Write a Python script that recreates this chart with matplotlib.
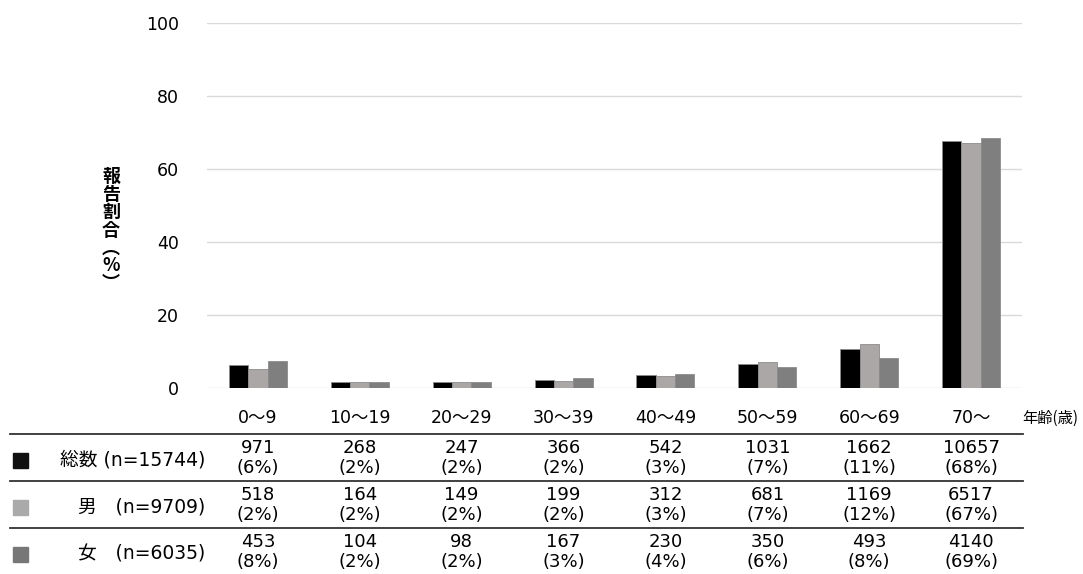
import numpy as np
import matplotlib.pyplot as plt
from matplotlib.patches import Rectangle

plt.rcParams['font.family'] = ['DejaVu Sans', 'Noto Sans CJK JP']

ages = ['0～9', '10～19', '20～29', '30～39', '40～49', '50～59', '60～69', '70～']
series_names = ['総数 (n=15744)', '男　(n=9709)', '女　(n=6035)']
series_n = [15744, 9709, 6035]
total_counts = [971, 268, 247, 366, 542, 1031, 1662, 10657]
male_counts = [518, 164, 149, 199, 312, 681, 1169, 6517]
female_counts = [453, 104, 98, 167, 230, 350, 493, 4140]
# percentages as printed in the source table (kept verbatim)
total_pct = ['6%', '2%', '2%', '2%', '3%', '7%', '11%', '68%']
male_pct = ['2%', '2%', '2%', '2%', '3%', '7%', '12%', '67%']
female_pct = ['8%', '2%', '2%', '3%', '4%', '6%', '8%', '69%']

bar_colors = ['#000000', '#aba7a6', '#7f7f7f']
legend_colors = ['#111111', '#aaaaaa', '#777777']

counts = [total_counts, male_counts, female_counts]
pcts = [total_pct, male_pct, female_pct]

fig = plt.figure(figsize=(10.83, 5.74), dpi=100)
W, H = 1083, 574
ax = fig.add_axes([207 / W, 1 - 388 / H, (1022 - 207) / W, (388 - 23) / H])

x = np.arange(len(ages))
bw = 0.19
for i in range(3):
    vals = np.array(counts[i]) / series_n[i] * 100
    ax.bar(x + (i - 1) * bw, vals, width=bw, color=bar_colors[i],
           edgecolor='#8c8c8c', linewidth=0.6, zorder=3)

ax.set_xlim(-0.5, len(ages) - 0.5)
ax.set_ylim(0, 100)
ax.set_yticks(range(0, 101, 20))
ax.yaxis.grid(True, color='#d9d9d9', linewidth=1.0, zorder=0)
for s in ['top', 'right', 'left', 'bottom']:
    ax.spines[s].set_visible(False)
ax.tick_params(axis='y', length=0, pad=20, labelsize=12.5)
ax.set_xticks([])

# y label, written vertically
fig.text(111 / W, 1 - 230 / H, '報\n告\n割\n合\n︵\n%\n︶', ha='center', va='center',
         fontsize=13, linespacing=0.92, family=['Noto Sans CJK JP', 'DejaVu Sans'],
         fontweight='bold')

# category labels
trans = ax.get_xaxis_transform()
lab_y = -(418 - 388) / (388 - 23)
for xi, lab in zip(x, ages):
    ax.text(xi, lab_y, lab, transform=trans, ha='center', va='center', fontsize=12.5)
fig.text(1022 / W, 1 - 418 / H, '年齢(歳)', ha='left', va='center', fontsize=11,
         family=['Noto Sans CJK JP', 'DejaVu Sans'])

# table lines
for yl in [434, 481, 528]:
    fig.add_artist(plt.Line2D([10 / W, 1023 / W], [1 - yl / H, 1 - yl / H],
                              color='#333333', linewidth=1.3))

row_tops = [434, 481, 528]
for r in range(3):
    top = row_tops[r]
    fig.add_artist(Rectangle((13 / W, 1 - (top + 34) / H), 15 / W, 15 / H,
                             color=legend_colors[r], transform=fig.transFigure))
    fig.text(205 / W, 1 - (top + 26) / H, series_names[r], ha='right', va='center',
             fontsize=13.5)
    for xi in x:
        xf = (207 + (xi + 0.5) * (1022 - 207) / len(ages)) / W
        fig.text(xf, 1 - (top + 14) / H, str(counts[r][xi]), ha='center', va='center',
                 fontsize=13)
        fig.text(xf, 1 - (top + 34) / H, '(' + pcts[r][xi] + ')', ha='center',
                 va='center', fontsize=13)

fig.savefig('out.png', dpi=100)
